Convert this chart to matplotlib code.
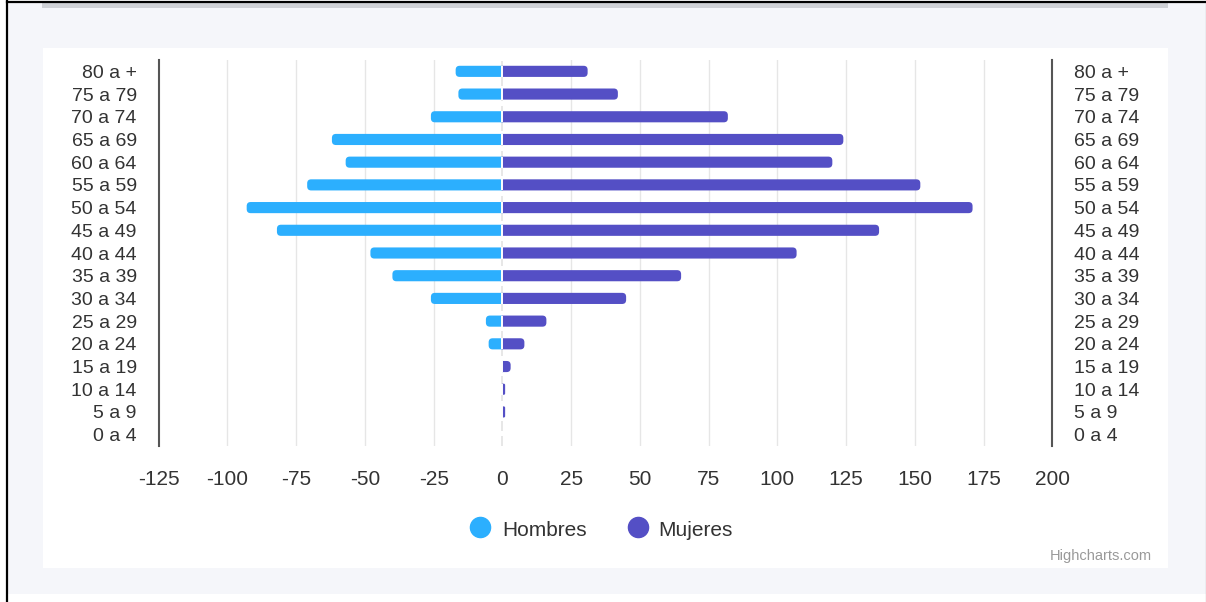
import matplotlib
matplotlib.use("Agg")
import matplotlib.pyplot as plt
from matplotlib.patches import Rectangle, FancyBboxPatch
from matplotlib.lines import Line2D
import numpy as np

# data (top row first)
age_groups = ["80 a +", "75 a 79", "70 a 74", "65 a 69", "60 a 64", "55 a 59",
              "50 a 54", "45 a 49", "40 a 44", "35 a 39", "30 a 34", "25 a 29",
              "20 a 24", "15 a 19", "10 a 14", "5 a 9", "0 a 4"]
hombres = [-17, -16, -26, -62, -57, -71, -93, -82, -48, -40, -26, -6, -5, 0, 0, 0, 0]
mujeres = [31, 42, 82, 124, 120, 152, 171, 137, 107, 65, 45, 16, 8, 3, 1, 1, 0]
series_names = ["Hombres", "Mujeres"]
series_colors = ["#2caffe", "#544fc5"]
x_ticks = list(range(-125, 201, 25))

W, H = 1206, 602
plt.rcParams["font.family"] = ["Liberation Sans", "DejaVu Sans"]
plt.rcParams["axes.unicode_minus"] = False

fig = plt.figure(figsize=(W / 100, H / 100), dpi=100, facecolor="white")


# pixel coords (origin top-left) -> figure fraction
def fx(x):
    return x / W


def fy(y):
    return 1 - y / H


# page background, frame lines and the white chart card
fig.add_artist(Rectangle((fx(8), fy(594)), fx(1198), 591 / H, transform=fig.transFigure,
                         facecolor="#f5f6fa", edgecolor="none", zorder=0))
fig.add_artist(Rectangle((fx(42), fy(7.5)), fx(1126), 4 / H, transform=fig.transFigure,
                         facecolor="#cfd1d6", edgecolor="none", zorder=0))
fig.add_artist(Line2D([fx(7), fx(7)], [fy(1), fy(602)], transform=fig.transFigure,
                      color="black", lw=1.6, zorder=1))
fig.add_artist(Line2D([fx(7), fx(1206)], [fy(2), fy(2)], transform=fig.transFigure,
                      color="black", lw=1.6, zorder=1))
fig.add_artist(Line2D([fx(1205.5), fx(1205.5)], [fy(1), fy(602)], transform=fig.transFigure,
                      color="#444444", lw=0.8, zorder=1))
fig.add_artist(Rectangle((fx(42.5), fy(567.5)), fx(1125.5), 520 / H, transform=fig.transFigure,
                         facecolor="white", edgecolor="none", zorder=0))

# plot area: -125 .. 200 horizontally, 17 categories vertically
ax = fig.add_axes([fx(158.7), fy(446), fx(1052.3 - 158.7), 386 / H])
ax.set_facecolor("none")
ax.set_zorder(2)

y_pos = np.arange(len(age_groups))[::-1]
bar_h = 0.49
ax.set_xlim(x_ticks[0], x_ticks[-1])
ax.set_ylim(-0.5, len(age_groups) - 0.5)

# px -> data unit factors, used for round bar ends
xpp = (x_ticks[-1] - x_ticks[0]) / (1052.3 - 158.7)
ypp = len(age_groups) / 386.0
radius_px = 4

# each side of zero gets its own clip area so the inner end stays square
clip_left = Rectangle((x_ticks[0], -1), -x_ticks[0], len(age_groups) + 1, transform=ax.transData)
clip_right = Rectangle((0, -1), x_ticks[-1], len(age_groups) + 1, transform=ax.transData)

for values, name, color in zip([hombres, mujeres], series_names, series_colors):
    bars = ax.barh(y_pos, values, height=bar_h, color=color, linewidth=0, zorder=3, label=name)
    for rect in bars:
        w = rect.get_width()
        rect.set_visible(False)
        if w == 0:
            continue
        r = min(radius_px * xpp, abs(w) / 2)
        # extend past zero by r, then clip at zero
        x0 = min(0, w) - (r if w > 0 else 0)
        patch = FancyBboxPatch((x0, rect.get_y()), abs(w) + r, rect.get_height(),
                               boxstyle=f"round,pad=0,rounding_size={r}",
                               mutation_aspect=ypp / xpp, facecolor=color,
                               linewidth=0, zorder=3)
        ax.add_patch(patch)
        patch.set_clip_path(clip_right if w > 0 else clip_left)

# white seam between the two bars at zero
has_bar = np.array([h != 0 or m != 0 for h, m in zip(hombres, mujeres)])
ax.vlines(np.zeros(has_bar.sum()), y_pos[has_bar] - bar_h / 2, y_pos[has_bar] + bar_h / 2,
          color="white", lw=1.4, zorder=4)

# grid
for t in x_ticks[1:-1]:
    if t == 0:
        ax.axvline(t, color="#e3e3e3", lw=1.2, ls=(0, (6, 3)), zorder=1)
    else:
        ax.axvline(t, color="#e6e6e6", lw=1.0, zorder=1)

# axes styling
for side in ["top", "bottom"]:
    ax.spines[side].set_visible(False)
for side in ["left", "right"]:
    ax.spines[side].set_color("#555555")
    ax.spines[side].set_linewidth(1.5)

ax.set_yticks(y_pos)
ax.set_yticklabels(age_groups)
ax.tick_params(axis="y", length=0, pad=15.8, labelsize=14, labelcolor="#333333",
               left=False, right=False, labelleft=True, labelright=True)

ax.set_xticks(x_ticks)
ax.set_xticklabels([str(t) for t in x_ticks])
ax.tick_params(axis="x", length=0, pad=17, labelsize=15, labelcolor="#333333")

# legend drawn by hand like the Highcharts one
legend_items = [(480, 502), (638, 658)]
for (cx, tx), name, color in zip(legend_items, series_names, series_colors):
    fig.add_artist(Line2D([fx(cx)], [fy(527)], transform=fig.transFigure, marker="o",
                          markersize=14.5, markerfacecolor=color, markeredgecolor=color,
                          linestyle="none", zorder=3))
    fig.text(fx(tx), fy(536), name, ha="left", va="baseline", fontsize=15,
             color="#333333", zorder=3)

fig.text(fx(1152), fy(556), "Highcharts.com", ha="right", va="center",
         fontsize=10.5, color="#999999", zorder=3)

fig.savefig("out.png", dpi=100)
